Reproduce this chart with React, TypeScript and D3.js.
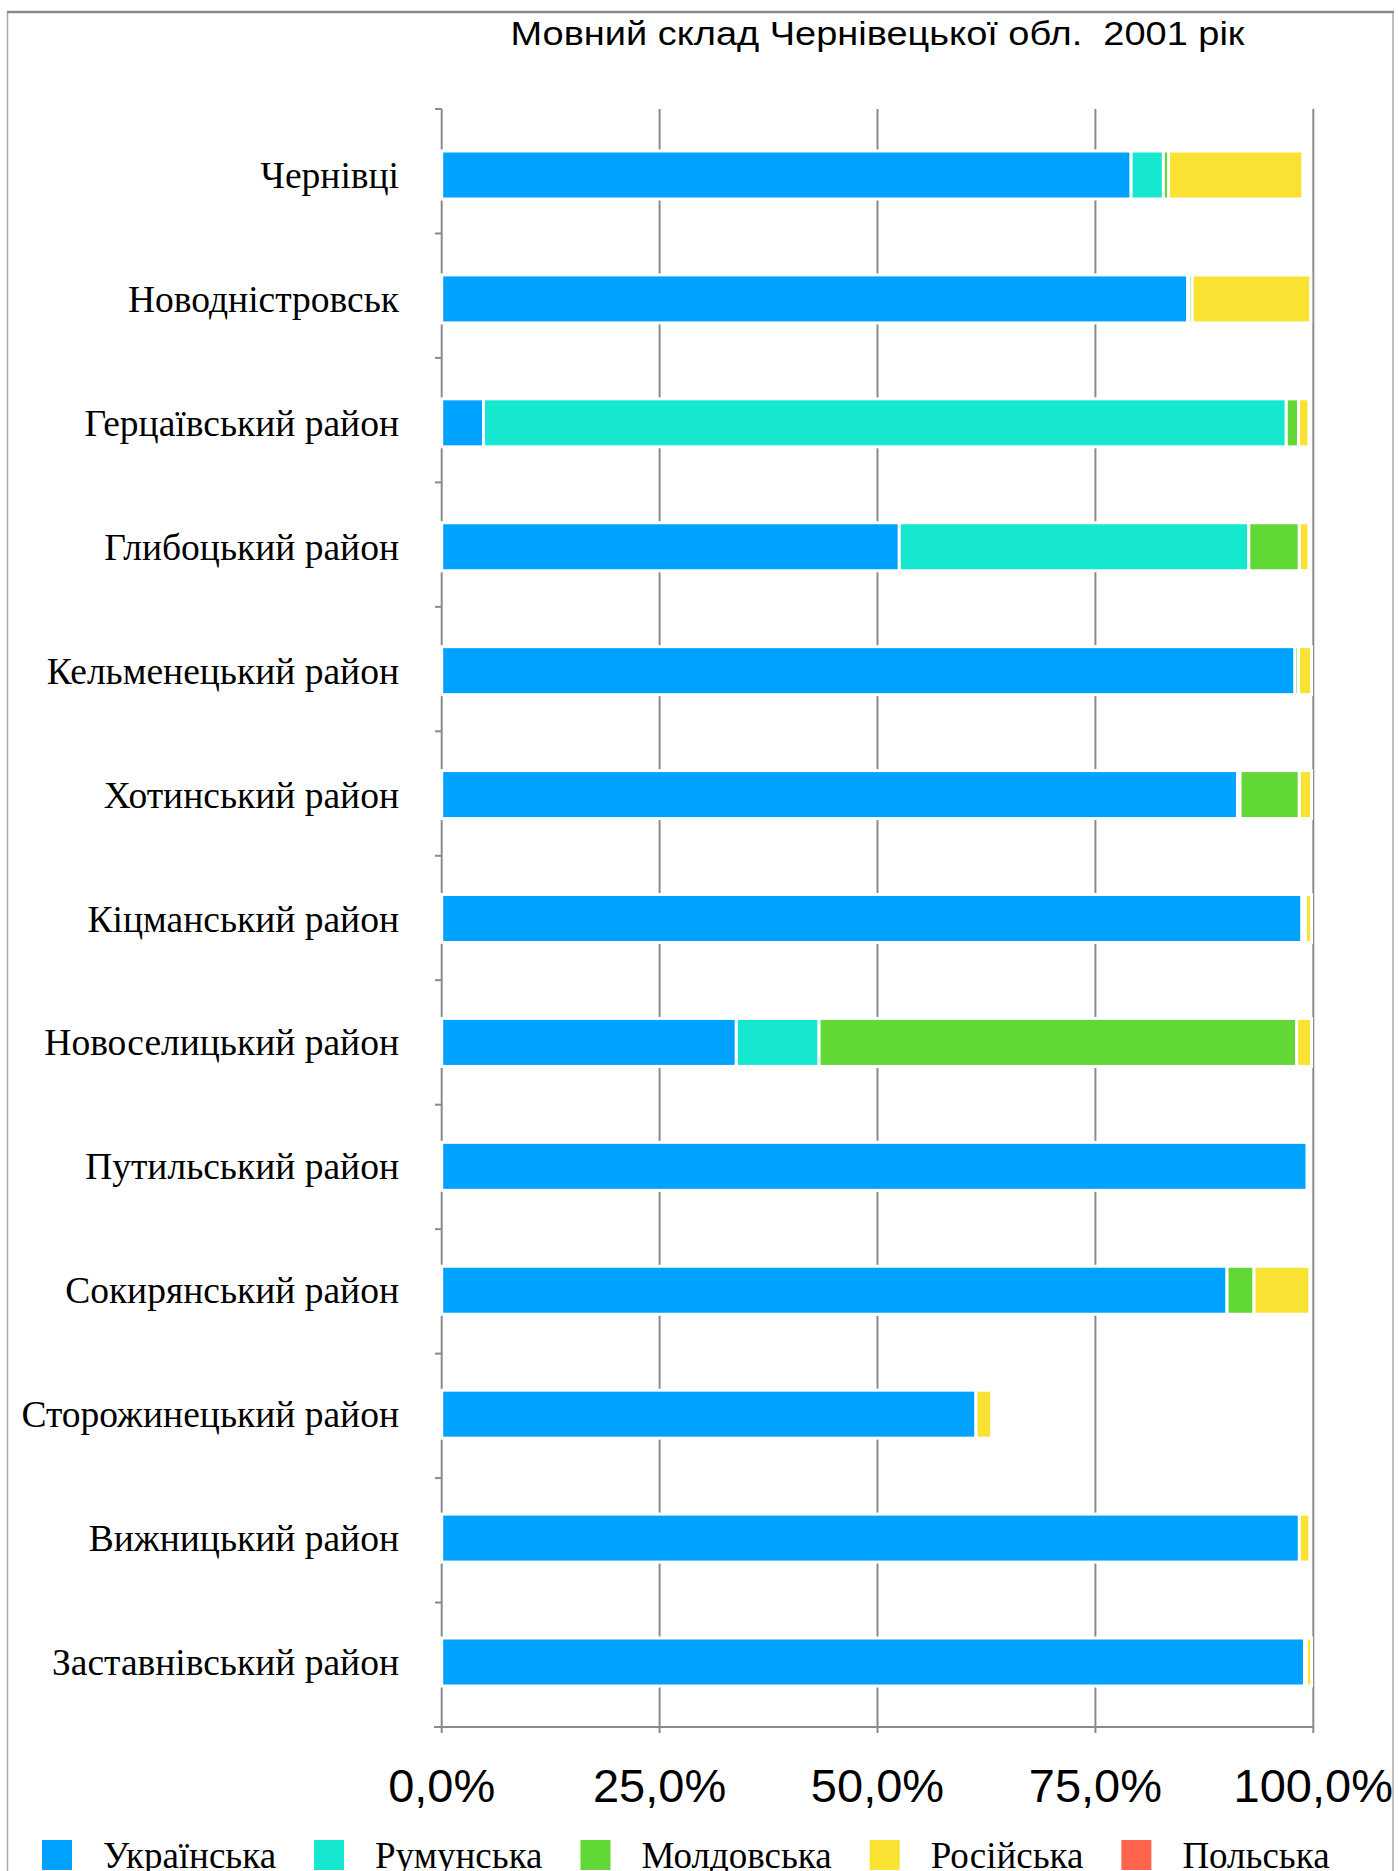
import React, { useMemo } from 'react';
import * as d3 from 'd3';

const categories = [
  'Чернівці',
  'Новодністровськ',
  'Герцаївський район',
  'Глибоцький район',
  'Кельменецький район',
  'Хотинський район',
  'Кіцманський район',
  'Новоселицький район',
  'Путильський район',
  'Сокирянський район',
  'Сторожинецький район',
  'Вижницький район',
  'Заставнівський район',
];
const seriesNames = ['Українська', 'Румунська', 'Молдовська', 'Російська', 'Польська'];
const ukrainian = [79.1, 85.6, 4.8, 52.5, 97.9, 91.3, 98.7, 33.8, 99.3, 90.1, 61.3, 98.4, 99.0];
const romanian = [3.7, 0.1, 92.1, 40.1, 0, 0.3, 0.2, 9.5, 0, 0, 0, 0, 0.2];
const moldovan = [0.6, 0.4, 1.4, 5.8, 0.4, 6.8, 0.2, 54.8, 0, 3.1, 0, 0, 0];
const russian = [15.4, 13.6, 1.2, 1.1, 1.5, 1.4, 0.7, 1.7, 0.2, 6.4, 1.8, 1.2, 0.6];
const polish = [0, 0, 0, 0, 0, 0, 0, 0, 0, 0, 0, 0, 0];
const xTicks = [0, 25, 50, 75, 100];
const title = 'Мовний склад Чернівецької обл.  2001 рік';
const colors = ['#00A2FF', '#16E7CF', '#61D836', '#FAE232', '#FF644E'];

const W = 1399;
const H = 1871;
const serif = "'Liberation Serif', 'Times New Roman', serif";
const sans = "'Liberation Sans', Arial, Helvetica, sans-serif";

const locale = d3.formatLocale({ decimal: ',', thousands: ' ', grouping: [3], currency: ['', ''] });
const fmt = locale.format('.1f');

export default function App() {
  const series = [ukrainian, romanian, moldovan, russian, polish];
  const x = d3.scaleLinear().domain([0, 100]).range([441.7, 1313.3]);
  // category bands (for axis ticks)
  const yBand = d3.scaleBand<string>().domain(categories).range([109, 1727]);
  // bar centres
  const yc = d3.scalePoint<string>().domain(categories).range([175, 1662]);
  const barH = 48;

  const rows = categories.map((c, i) => {
    const o: any = { cat: c };
    seriesNames.forEach((s, k) => (o[s] = series[k][i]));
    return o;
  });
  const stacked = d3.stack<any>().keys(seriesNames)(rows);

  const step = yBand.step();
  const boundaries = d3.range(categories.length + 1).map((i) => 109 + i * step);

  const legendLayout = useMemo(() => {
    const canvas = document.createElement('canvas');
    const ctx = canvas.getContext('2d')!;
    ctx.font = `37px ${serif}`;
    let cx = 42;
    return seriesNames.map((s) => {
      const w = ctx.measureText(s).width;
      const item = { s, x: cx, w };
      cx += 61 + w + 38;
      return item;
    });
  }, []);

  const axisColor = '#8a8a8a';

  return (
    <svg
      width={W}
      height={H}
      style={{ position: 'absolute', left: 0, top: 0, display: 'block', background: '#fff' }}
    >
      {/* frame */}
      <line x1={7.5} x2={7.5} y1={12} y2={H} stroke="#aaaaaa" strokeWidth={1.5} />
      <line x1={1393} x2={1393} y1={12} y2={H} stroke="#aaaaaa" strokeWidth={1.5} />
      <line x1={7} x2={1394} y1={12} y2={12} stroke="#8a8a8a" strokeWidth={2.5} />

      {/* title */}
      <text
        x={x(50)}
        y={45}
        textAnchor="middle"
        fontFamily={sans}
        fontSize={33}
        textLength={734}
        lengthAdjust="spacingAndGlyphs"
        style={{ whiteSpace: 'pre' }}
        fill="#000"
      >
        {title}
      </text>

      {/* gridlines */}
      {xTicks.map((t) => (
        <line
          key={'g' + t}
          x1={x(t)}
          x2={x(t)}
          y1={109}
          y2={1733}
          stroke={axisColor}
          strokeWidth={2}
        />
      ))}

      {/* category ticks */}
      {boundaries.map((b, i) => (
        <line key={'ct' + i} x1={435} x2={x(0)} y1={b} y2={b} stroke={axisColor} strokeWidth={2} />
      ))}

      {/* bottom axis */}
      <line x1={434} x2={x(100)} y1={1727} y2={1727} stroke={axisColor} strokeWidth={2} />

      {/* bars */}
      {stacked.map((layer, k) => (
        <g key={layer.key} fill={colors[k]}>
          {layer.map((d, i) => {
            const w = x(d[1]) - x(d[0]);
            if (w <= 0) return null;
            return (
              <rect
                key={i}
                x={x(d[0])}
                y={yc(categories[i])! - barH / 2}
                width={w}
                height={barH}
                stroke="#ffffff"
                strokeWidth={3}
              />
            );
          })}
        </g>
      ))}

      {/* category labels */}
      {categories.map((c) => (
        <text
          key={c}
          x={399}
          y={yc(c)! + 13}
          textAnchor="end"
          fontFamily={serif}
          fontSize={37.5}
          fill="#000"
        >
          {c}
        </text>
      ))}

      {/* x tick labels */}
      {xTicks.map((t) => (
        <text
          key={'xl' + t}
          x={x(t)}
          y={1802}
          textAnchor="middle"
          fontFamily={sans}
          fontSize={47}
          fill="#000"
        >
          {fmt(t) + '%'}
        </text>
      ))}

      {/* legend */}
      {legendLayout.map((it, k) => (
        <g key={it.s}>
          <rect x={it.x} y={1840} width={30} height={30} fill={colors[k]} />
          <text x={it.x + 61} y={1868} fontFamily={serif} fontSize={37} fill="#000">
            {it.s}
          </text>
        </g>
      ))}
    </svg>
  );
}
